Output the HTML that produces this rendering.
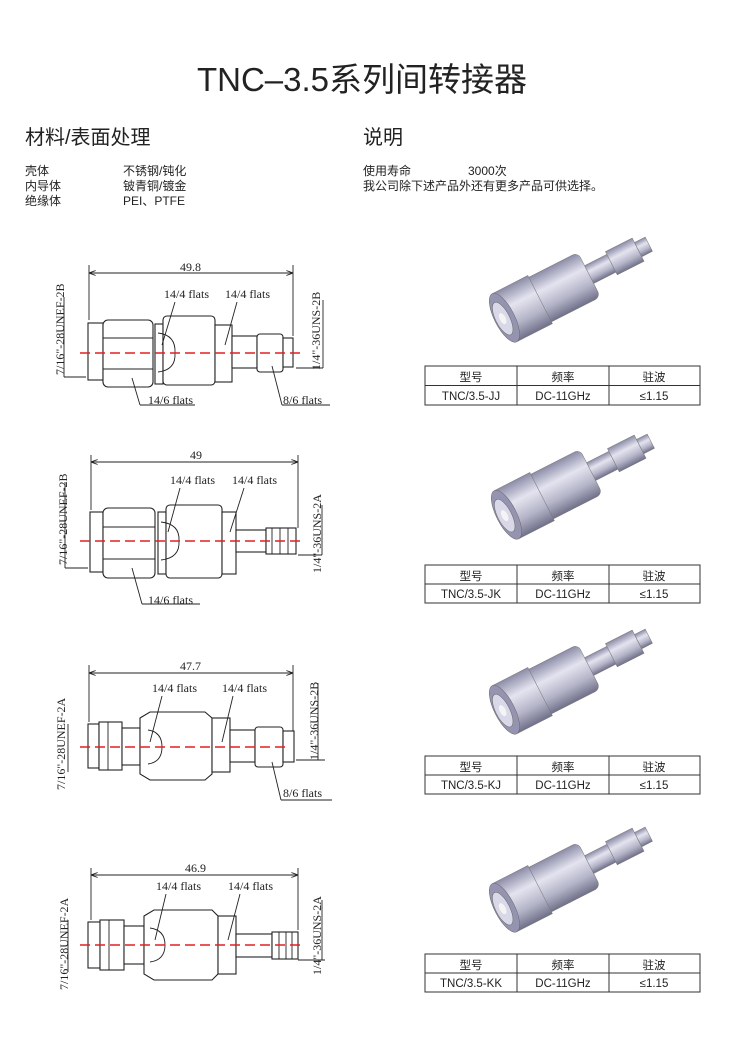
<!DOCTYPE html>
<html><head><meta charset="utf-8"><style>
body{margin:0;background:#fff}
svg{display:block}
text{font-family:"Liberation Sans","Noto Sans CJK SC",sans-serif;fill:#222}
.d{font-family:"Liberation Serif","Noto Serif CJK SC",serif;font-size:12px;fill:#222}
.s{fill:#fff;stroke:#222;stroke-width:1.1}
.l{stroke:#222;stroke-width:0.9;fill:none}
.c{stroke:#e02020;stroke-width:1.6;stroke-dasharray:10,5}
.t{font-size:11.5px}
</style></head><body>
<svg width="750" height="1059" viewBox="0 0 750 1059" xmlns="http://www.w3.org/2000/svg">
<defs>
<linearGradient id="g" x1="0" y1="0" x2="0" y2="1">
<stop offset="0" stop-color="#8c8ca8"/><stop offset="0.35" stop-color="#e4e4f0"/><stop offset="0.7" stop-color="#b4b4c8"/><stop offset="1" stop-color="#70708a"/></linearGradient>
<marker id="a" markerWidth="8" markerHeight="6" refX="8" refY="3" orient="auto"><path d="M0,0 L8,3 L0,6" fill="none" stroke="#222"/></marker>
<g id="prodM">
<rect x="95" y="-10" width="30" height="20" fill="url(#g)" stroke="#777" stroke-width=".5"/>
<rect x="125" y="-13" width="30" height="26" fill="url(#g)" stroke="#777" stroke-width=".5"/>
<rect x="155" y="-8" width="12" height="16" fill="url(#g)" stroke="#777" stroke-width=".5"/>
<rect x="40" y="-25" width="60" height="50" rx="6" fill="url(#g)" stroke="#777" stroke-width=".5"/>
<rect x="5" y="-27" width="40" height="54" fill="url(#g)" stroke="#777" stroke-width=".5"/>
<ellipse cx="5" cy="0" rx="10" ry="27" fill="#9494b0" stroke="#666" stroke-width=".5"/>
<ellipse cx="3" cy="0" rx="7" ry="18" fill="#d8d8e8" stroke="#666" stroke-width=".5"/>
<ellipse cx="3" cy="0" rx="3" ry="6" fill="#f4f4f4"/>
</g>
</defs>

<text x="362" y="91" font-size="33" text-anchor="middle">TNC–3.5系列间转接器</text>
<text x="25" y="144" font-size="20">材料/表面处理</text>
<text x="363" y="144" font-size="20">说明</text>
<g font-size="12">
<text x="25" y="175">壳体</text><text x="123" y="175">不锈钢/钝化</text>
<text x="25" y="190">内导体</text><text x="123" y="190">铍青铜/镀金</text>
<text x="25" y="205">绝缘体</text><text x="123" y="205">PEI、PTFE</text>
<text x="363" y="175">使用寿命</text><text x="468" y="175">3000次</text>
<text x="363" y="190">我公司除下述产品外还有更多产品可供选择。</text>
</g>

<!-- Drawing 1 -->
<g>
<line class="l" x1="89" y1="265" x2="89" y2="320"/><line class="l" x1="293" y1="265" x2="293" y2="336"/>
<line class="l" x1="89" y1="273" x2="293" y2="273" marker-end="url(#a)"/><line class="l" x1="293" y1="273" x2="89" y2="273" marker-end="url(#a)"/>
<text class="d" x="180" y="271">49.8</text>
<rect class="s" x="88" y="323" width="15" height="57"/>
<rect class="s" x="103" y="320" width="50" height="67" rx="5"/>
<line class="l" x1="103" y1="338" x2="153" y2="338"/><line class="l" x1="103" y1="369" x2="153" y2="369"/>
<rect class="s" x="155" y="324" width="8" height="60"/>
<rect class="s" x="163" y="316" width="52" height="69" rx="4"/>
<path class="l" d="M158,333 Q176,335 175,353 Q176,370 158,372"/>
<rect class="s" x="215" y="325" width="17" height="57"/>
<rect class="s" x="232" y="336" width="25" height="32"/>
<rect class="s" x="257" y="334" width="26" height="38" rx="3"/>
<rect class="s" x="283" y="338" width="10" height="29"/>
<line class="c" x1="80" y1="353" x2="300" y2="353"/>
<line class="l" x1="64" y1="297" x2="64" y2="377"/><line class="l" x1="64" y1="377" x2="86" y2="377"/>
<text class="d" transform="translate(64,375) rotate(-90)">7/16"-28UNEF-2B</text>
<line class="l" x1="323" y1="300" x2="323" y2="368"/><line class="l" x1="296" y1="368" x2="323" y2="368"/>
<text class="d" transform="translate(320,370) rotate(-90)">1/4"-36UNS-2B</text>
<text class="d" x="164" y="298">14/4 flats</text><text class="d" x="225" y="298">14/4 flats</text>
<line class="l" x1="175" y1="302" x2="162" y2="345"/><line class="l" x1="237" y1="302" x2="225" y2="345"/>
<text class="d" x="148" y="404">14/6 flats</text><line class="l" x1="132" y1="378" x2="140" y2="405"/><line class="l" x1="140" y1="405" x2="195" y2="405"/>
<text class="d" x="283" y="404">8/6 flats</text><line class="l" x1="272" y1="366" x2="282" y2="405"/><line class="l" x1="282" y1="405" x2="330" y2="405"/>
</g>

<!-- Drawing 2 -->
<g>
<line class="l" x1="91" y1="455" x2="91" y2="510"/><line class="l" x1="298" y1="455" x2="298" y2="528"/>
<line class="l" x1="91" y1="462" x2="298" y2="462" marker-end="url(#a)"/><line class="l" x1="298" y1="462" x2="91" y2="462" marker-end="url(#a)"/>
<text class="d" x="190" y="459">49</text>
<rect class="s" x="90" y="512" width="13" height="60"/>
<rect class="s" x="103" y="508" width="52" height="70" rx="5"/>
<line class="l" x1="103" y1="527" x2="155" y2="527"/><line class="l" x1="103" y1="559" x2="155" y2="559"/>
<rect class="s" x="158" y="512" width="8" height="62"/>
<rect class="s" x="166" y="505" width="56" height="73" rx="4"/>
<path class="l" d="M161,522 Q180,524 179,541 Q180,558 161,560"/>
<rect class="s" x="222" y="512" width="14" height="62"/>
<rect class="s" x="236" y="530" width="30" height="22"/>
<rect class="s" x="266" y="528" width="30" height="26"/>
<line class="l" x1="272" y1="528" x2="272" y2="554"/><line class="l" x1="280" y1="528" x2="280" y2="554"/><line class="l" x1="288" y1="528" x2="288" y2="554"/>
<line class="c" x1="80" y1="541" x2="305" y2="541"/>
<line class="l" x1="65" y1="482" x2="65" y2="568"/><line class="l" x1="65" y1="568" x2="88" y2="568"/>
<text class="d" transform="translate(67,565) rotate(-90)">7/16"-28UNEF-2B</text>
<line class="l" x1="322" y1="505" x2="322" y2="555"/><line class="l" x1="298" y1="555" x2="322" y2="555"/>
<text class="d" transform="translate(321,573) rotate(-90)">1/4"-36UNS-2A</text>
<text class="d" x="170" y="484">14/4 flats</text><text class="d" x="232" y="484">14/4 flats</text>
<line class="l" x1="180" y1="488" x2="168" y2="532"/><line class="l" x1="244" y1="488" x2="230" y2="532"/>
<text class="d" x="148" y="604">14/6 flats</text><line class="l" x1="132" y1="568" x2="142" y2="604"/><line class="l" x1="142" y1="604" x2="200" y2="604"/>
</g>

<!-- Drawing 3 -->
<g>
<line class="l" x1="89" y1="665" x2="89" y2="722"/><line class="l" x1="293" y1="665" x2="293" y2="760"/>
<line class="l" x1="89" y1="673" x2="293" y2="673" marker-end="url(#a)"/><line class="l" x1="293" y1="673" x2="89" y2="673" marker-end="url(#a)"/>
<text class="d" x="180" y="670">47.7</text>
<rect class="s" x="88" y="724" width="11" height="44"/>
<rect class="s" x="99" y="722" width="23" height="48"/>
<line class="l" x1="108" y1="722" x2="108" y2="770"/>
<rect class="s" x="122" y="728" width="18" height="37"/>
<path class="s" d="M140,718 L150,712 L205,712 L212,718 L212,774 L205,780 L150,780 L140,774 Z"/>
<path class="l" d="M148,730 Q162,732 162,747 Q162,762 148,764"/>
<rect class="s" x="212" y="718" width="18" height="54"/>
<rect class="s" x="230" y="730" width="25" height="32"/>
<rect class="s" x="255" y="727" width="28" height="40" rx="3"/>
<rect class="s" x="283" y="731" width="11" height="31"/>
<line class="c" x1="80" y1="747" x2="290" y2="747"/>
<line class="l" x1="68" y1="724" x2="68" y2="772"/>
<text class="d" transform="translate(65,790) rotate(-90)">7/16"-28UNEF-2A</text>
<line class="l" x1="318" y1="683" x2="318" y2="760"/><line class="l" x1="296" y1="760" x2="325" y2="760"/>
<text class="d" transform="translate(318,760) rotate(-90)">1/4"-36UNS-2B</text>
<text class="d" x="152" y="692">14/4 flats</text><text class="d" x="222" y="692">14/4 flats</text>
<line class="l" x1="162" y1="696" x2="150" y2="742"/><line class="l" x1="233" y1="696" x2="222" y2="742"/>
<text class="d" x="283" y="797">8/6 flats</text><line class="l" x1="272" y1="762" x2="281" y2="800"/><line class="l" x1="281" y1="800" x2="332" y2="800"/>
</g>

<!-- Drawing 4 -->
<g>
<line class="l" x1="91" y1="868" x2="91" y2="920"/><line class="l" x1="298" y1="868" x2="298" y2="930"/>
<line class="l" x1="91" y1="875" x2="298" y2="875" marker-end="url(#a)"/><line class="l" x1="298" y1="875" x2="91" y2="875" marker-end="url(#a)"/>
<text class="d" x="185" y="872">46.9</text>
<rect class="s" x="88" y="922" width="12" height="46"/>
<rect class="s" x="100" y="920" width="24" height="50"/>
<line class="l" x1="109" y1="920" x2="109" y2="970"/>
<rect class="s" x="124" y="926" width="20" height="38"/>
<path class="s" d="M144,916 L154,910 L212,910 L218,916 L218,974 L212,980 L154,980 L144,974 Z"/>
<path class="l" d="M150,928 Q165,930 165,945 Q165,960 150,962"/>
<rect class="s" x="218" y="916" width="18" height="58"/>
<rect class="s" x="236" y="934" width="36" height="23"/>
<rect class="s" x="272" y="932" width="26" height="27"/>
<line class="l" x1="279" y1="932" x2="279" y2="959"/><line class="l" x1="286" y1="932" x2="286" y2="959"/><line class="l" x1="292" y1="932" x2="292" y2="959"/>
<line class="c" x1="80" y1="945" x2="300" y2="945"/>
<line class="l" x1="68" y1="920" x2="68" y2="972"/>
<text class="d" transform="translate(68,990) rotate(-90)">7/16"-28UNEF-2A</text>
<line class="l" x1="322" y1="900" x2="322" y2="960"/><line class="l" x1="298" y1="960" x2="325" y2="960"/>
<text class="d" transform="translate(321,975) rotate(-90)">1/4"-36UNS-2A</text>
<text class="d" x="156" y="890">14/4 flats</text><text class="d" x="228" y="890">14/4 flats</text>
<line class="l" x1="166" y1="894" x2="155" y2="940"/><line class="l" x1="240" y1="894" x2="228" y2="940"/>
</g>

<!-- Products -->
<use href="#prodM" transform="translate(500,320) rotate(-27)"/>
<use href="#prodM" transform="translate(502,517) rotate(-27)"/>
<use href="#prodM" transform="translate(500,712) rotate(-27)"/>
<use href="#prodM" transform="translate(500,910) rotate(-27)"/>

<!-- Tables -->
<g class="t">
<g transform="translate(0,366)">
<rect x="425" y="0" width="275" height="39" fill="none" stroke="#333"/>
<line x1="425" y1="19.5" x2="700" y2="19.5" stroke="#333"/><line x1="517" y1="0" x2="517" y2="39" stroke="#333"/><line x1="609" y1="0" x2="609" y2="39" stroke="#333"/>
<text x="471" y="15" text-anchor="middle" font-size="11.5">型号</text><text x="563" y="15" text-anchor="middle" font-size="11.5">频率</text><text x="654" y="15" text-anchor="middle" font-size="11.5">驻波</text>
<text x="471" y="34" text-anchor="middle" font-size="11.5">TNC/3.5-JJ</text><text x="563" y="34" text-anchor="middle" font-size="11.5">DC-11GHz</text><text x="654" y="34" text-anchor="middle" font-size="11.5">≤1.15</text>
</g>
<g transform="translate(0,565)">
<rect x="425" y="0" width="275" height="38" fill="none" stroke="#333"/>
<line x1="425" y1="19" x2="700" y2="19" stroke="#333"/><line x1="517" y1="0" x2="517" y2="38" stroke="#333"/><line x1="609" y1="0" x2="609" y2="38" stroke="#333"/>
<text x="471" y="15" text-anchor="middle" font-size="11.5">型号</text><text x="563" y="15" text-anchor="middle" font-size="11.5">频率</text><text x="654" y="15" text-anchor="middle" font-size="11.5">驻波</text>
<text x="471" y="33" text-anchor="middle" font-size="11.5">TNC/3.5-JK</text><text x="563" y="33" text-anchor="middle" font-size="11.5">DC-11GHz</text><text x="654" y="33" text-anchor="middle" font-size="11.5">≤1.15</text>
</g>
<g transform="translate(0,756)">
<rect x="425" y="0" width="275" height="38" fill="none" stroke="#333"/>
<line x1="425" y1="19" x2="700" y2="19" stroke="#333"/><line x1="517" y1="0" x2="517" y2="38" stroke="#333"/><line x1="609" y1="0" x2="609" y2="38" stroke="#333"/>
<text x="471" y="15" text-anchor="middle" font-size="11.5">型号</text><text x="563" y="15" text-anchor="middle" font-size="11.5">频率</text><text x="654" y="15" text-anchor="middle" font-size="11.5">驻波</text>
<text x="471" y="33" text-anchor="middle" font-size="11.5">TNC/3.5-KJ</text><text x="563" y="33" text-anchor="middle" font-size="11.5">DC-11GHz</text><text x="654" y="33" text-anchor="middle" font-size="11.5">≤1.15</text>
</g>
<g transform="translate(0,954)">
<rect x="425" y="0" width="275" height="38" fill="none" stroke="#333"/>
<line x1="425" y1="19" x2="700" y2="19" stroke="#333"/><line x1="517" y1="0" x2="517" y2="38" stroke="#333"/><line x1="609" y1="0" x2="609" y2="38" stroke="#333"/>
<text x="471" y="15" text-anchor="middle" font-size="11.5">型号</text><text x="563" y="15" text-anchor="middle" font-size="11.5">频率</text><text x="654" y="15" text-anchor="middle" font-size="11.5">驻波</text>
<text x="471" y="33" text-anchor="middle" font-size="11.5">TNC/3.5-KK</text><text x="563" y="33" text-anchor="middle" font-size="11.5">DC-11GHz</text><text x="654" y="33" text-anchor="middle" font-size="11.5">≤1.15</text>
</g>
</g>
</svg>
</body></html>
